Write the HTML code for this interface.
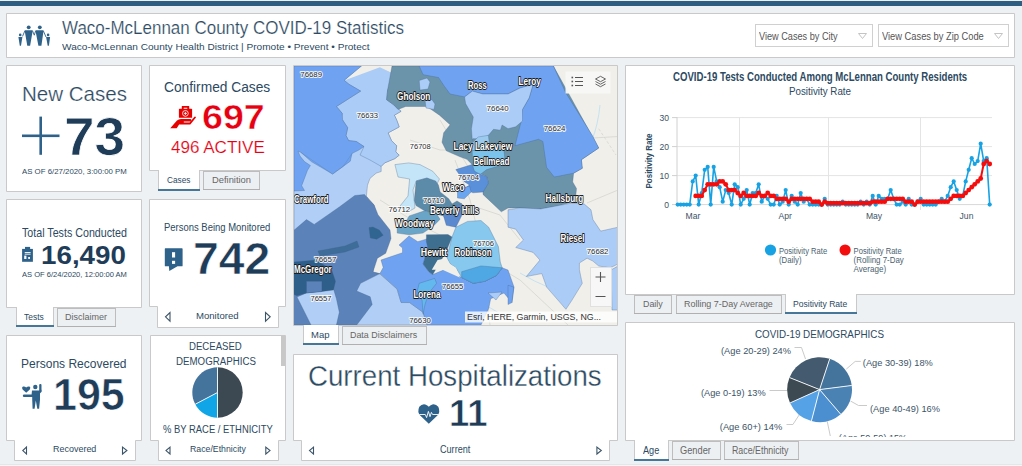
<!DOCTYPE html>
<html><head><meta charset="utf-8"><style>
html,body{margin:0;padding:0;width:1022px;height:466px;overflow:hidden;background:#edf1f4;font-family:"Liberation Sans",sans-serif}
.t{position:absolute;white-space:nowrap;transform-origin:0 0}
svg{position:absolute;left:0;top:0}
</style></head><body>
<svg width="1022" height="466"><rect x="0" y="1" width="1022" height="5" fill="#2e5f82"/><path d="M6.5,13.5H1014.5V57.5H6.5Z" fill="#fff" stroke="#c9c9c9"/><path d="M6.5,65.5H141.5V191.5H6.5Z" fill="#fff" stroke="#c9c9c9"/><path d="M149.5,65.5H285.5V170.5H149.5Z" fill="#fff" stroke="#c9c9c9"/><path d="M6.5,199.5H141.5V307.5H6.5Z" fill="#fff" stroke="#c9c9c9"/><path d="M149.5,199.5H285.5V306.5H278.5V327.5H157.5V306.5H149.5Z" fill="#fff" stroke="#c9c9c9"/><path d="M6.5,335.5H141.5V440.5H135.5V460.5H14.5V440.5H6.5Z" fill="#fff" stroke="#c9c9c9"/><path d="M150.5,335.5H285.5V440.5H278.5V460.5H158.5V440.5H150.5Z" fill="#fff" stroke="#c9c9c9"/><path d="M293.5,65.5H617.5V325.5H293.5Z" fill="#fff" stroke="#c9c9c9"/><path d="M293.5,354.5H617.5V440.5H609.5V460.5H301.5V440.5H293.5Z" fill="#fff" stroke="#c9c9c9"/><path d="M625.5,65.5H1014.5V294.5H625.5Z" fill="#fff" stroke="#c9c9c9"/><path d="M625.5,322.5H1014.5V440.5H625.5Z" fill="#fff" stroke="#c9c9c9"/><rect x="755.5" y="24.5" width="117" height="22" fill="#fff" stroke="#d0d0d0"/><rect x="878.5" y="24.5" width="130" height="22" fill="#fff" stroke="#d0d0d0"/><path d="M858.5,33.5H866.5L862.5,38.5Z M994.5,33.5H1002.5L998.5,38.5Z" fill="none" stroke="#c4c4c4"/><rect x="158" y="170" width="42" height="21" fill="#fff"/><path d="M158.5,170V191M199.5,170V191" stroke="#c9c9c9" fill="none"/><rect x="158" y="189" width="42" height="2" fill="#467799"/><rect x="203.5" y="171.5" width="56" height="18" fill="#edf0f3" stroke="#bdbdbd"/><rect x="203" y="189" width="57" height="1" fill="#b0b0b0"/><rect x="16" y="307" width="38" height="20" fill="#fff"/><path d="M16.5,307V327M53.5,307V327" stroke="#c9c9c9" fill="none"/><rect x="16" y="325" width="38" height="2" fill="#467799"/><rect x="57.5" y="308.5" width="58" height="18" fill="#edf0f3" stroke="#bdbdbd"/><rect x="57" y="326" width="59" height="1" fill="#b0b0b0"/><rect x="303" y="325" width="36" height="20" fill="#fff"/><path d="M303.5,325V345M338.5,325V345" stroke="#c9c9c9" fill="none"/><rect x="303" y="343" width="36" height="2" fill="#467799"/><rect x="342.5" y="326.5" width="84" height="18" fill="#edf0f3" stroke="#bdbdbd"/><rect x="342" y="344" width="85" height="1" fill="#b0b0b0"/><rect x="634.5" y="295.5" width="37" height="18" fill="#edf0f3" stroke="#bdbdbd"/><rect x="634" y="313" width="38" height="1" fill="#b0b0b0"/><rect x="676.5" y="295.5" width="105" height="18" fill="#edf0f3" stroke="#bdbdbd"/><rect x="676" y="313" width="106" height="1" fill="#b0b0b0"/><rect x="785" y="294" width="72" height="20" fill="#fff"/><path d="M785.5,294V314M856.5,294V314" stroke="#c9c9c9" fill="none"/><rect x="785" y="312" width="72" height="2" fill="#467799"/><rect x="634" y="440" width="35" height="21" fill="#fff"/><path d="M634.5,440V461M668.5,440V461" stroke="#c9c9c9" fill="none"/><rect x="634" y="459" width="35" height="2" fill="#467799"/><rect x="672.5" y="441.5" width="48" height="18" fill="#edf0f3" stroke="#bdbdbd"/><rect x="672" y="459" width="49" height="1" fill="#b0b0b0"/><rect x="724.5" y="441.5" width="74" height="18" fill="#edf0f3" stroke="#bdbdbd"/><rect x="724" y="459" width="75" height="1" fill="#b0b0b0"/><rect x="281" y="336" width="4" height="30" fill="#c8c8c8"/><rect x="0" y="464" width="1022" height="1" fill="#e3e7ea"/><rect x="0" y="465" width="1022" height="1" fill="#f4f5f5"/></svg>
<svg width="1022" height="466" style="font-family:'Liberation Sans'"><defs><clipPath id="mc"><rect x="294" y="66" width="323" height="259"/></clipPath></defs><g clip-path="url(#mc)"><rect x="294" y="66" width="323" height="259" fill="#f0efea"/><g stroke="#d6d6d0" stroke-width="0.8" fill="none"><path d="M380,200L420,225L470,250L520,280L568,325"/><path d="M455,160L470,200L480,240L490,325"/><path d="M587,203L618,190"/><path d="M593,138L618,136.5"/><path d="M598.7,128.7L616,155" stroke-dasharray="3,2"/><path d="M440,120L470,170"/><path d="M470,205L500,215L520,240"/><path d="M410,140L440,150L470,150"/></g><g stroke="#bfe0f2" stroke-width="0.9" fill="none"><path d="M520,273Q535,282 548,287"/><path d="M600,105Q598,125 592,140"/><path d="M470,300Q490,305 505,318"/></g><polygon fill="#b1cff6" stroke="#3f5f8a" stroke-opacity="0.45" stroke-width="0.7" stroke-linejoin="round" points="294.0,66.0 361.5,66.0 379.9,66.0 395.3,74.7 387.6,90.1 386.6,99.7 393.4,104.6 401.1,111.3 394.4,115.2 396.7,120.0 399.2,126.9 388.1,132.9 391.5,140.6 396.7,145.8 395.8,151.8 399.2,155.2 394.9,158.6 384.6,162.9 381.2,166.4 381.2,171.5 376.1,173.2 370.0,178.4 367.5,185.2 366.4,196.3 374.0,205.0 380.0,230.0 375.0,258.0 373.0,272.0 380.0,274.0 397.0,289.0 401.0,302.0 409.6,302.6 423.1,312.3 427.0,325.0 294.0,325.0" /><polygon fill="#abccf7" stroke="#3f5f8a" stroke-opacity="0.45" stroke-width="0.7" stroke-linejoin="round" points="344.2,80.4 361.5,66.0 379.9,66.0 395.3,74.7 387.6,90.1 386.6,99.7 393.4,104.6 401.1,111.3 394.4,115.2 396.7,120.0 399.2,126.9 388.1,132.9 391.5,140.6 396.7,145.8 395.8,151.8 399.2,155.2 394.9,158.6 384.6,162.9 381.2,166.4 370.0,160.0 360.0,155.0 364.0,146.6 356.3,141.5 348.6,140.6 346.0,135.5 347.7,127.7 342.6,120.0 340.3,124.8 342.2,113.3 336.4,106.5 360.6,91.1 349.0,84.3" /><polygon fill="#f0efea" points="361.5,66.0 404.0,66.0 395.3,74.7 379.9,67.3 344.2,80.4" /><polygon fill="#6fa3f2" stroke="#3f5f8a" stroke-opacity="0.45" stroke-width="0.7" stroke-linejoin="round" points="294.0,66.0 361.5,66.0 344.2,80.4 349.0,84.3 360.6,91.1 336.4,106.5 342.2,113.3 342.6,120.0 347.7,127.7 346.0,135.5 348.6,140.6 356.3,141.5 364.0,146.6 358.9,150.0 352.0,153.5 350.3,161.2 343.2,166.4 332.6,174.1 311.3,161.6 301.0,152.5 298.0,151.0 300.0,156.0 304.5,161.6 310.4,165.5 307.5,170.3 301.7,185.7 304.5,190.5 294.0,191.0" /><polygon fill="#6b94aa" stroke="#3f5f8a" stroke-opacity="0.45" stroke-width="0.7" stroke-linejoin="round" points="392.0,66.0 553.4,66.0 598.7,148.0 581.4,159.7 582.3,168.3 573.6,173.2 572.7,181.9 576.5,188.6 575.6,197.3 571.7,202.1 558.2,206.0 540.8,208.9 519.6,207.9 508.0,208.0 501.3,211.8 483.0,194.4 483.0,183.8 488.4,183.4 486.7,176.5 474.6,171.4 472.1,164.5 466.9,159.3 460.0,156.8 446.3,150.8 442.0,142.2 443.7,132.7 450.1,124.8 439.5,115.2 427.0,106.5 405.7,106.5 398.0,109.4 393.4,104.6 386.6,99.7 387.6,90.1" /><polygon fill="#abccf7" stroke="#3f5f8a" stroke-opacity="0.45" stroke-width="0.7" stroke-linejoin="round" points="419.2,80.5 427.0,78.0 430.0,82.0 428.0,89.0 420.0,90.1" /><polygon fill="#abccf7" stroke="#3f5f8a" stroke-opacity="0.45" stroke-width="0.7" stroke-linejoin="round" points="425.0,100.0 432.0,99.7 435.0,104.0 434.0,109.4 426.0,108.0" /><polygon fill="#6fa3f2" stroke="#3f5f8a" stroke-opacity="0.45" stroke-width="0.7" stroke-linejoin="round" points="419.2,66.0 553.4,66.0 565.9,93.0 592.9,136.4 598.7,148.0 581.4,159.7 582.3,168.3 573.6,173.2 554.3,177.0 546.6,167.4 542.9,141.4 538.5,139.3 515.0,145.7 521.5,120.0 522.5,109.4 522.5,109.4 529.2,97.8 533.1,84.3 519.6,88.2 508.0,94.0 482.9,94.0 472.3,91.1 464.6,96.9 450.1,94.0 444.3,86.2 438.5,77.5 423.1,74.7" /><polygon fill="#abccf7" stroke="#3f5f8a" stroke-opacity="0.45" stroke-width="0.7" stroke-linejoin="round" points="464.6,96.9 472.3,91.1 482.9,94.0 508.0,94.0 519.6,88.2 533.1,84.3 529.2,97.8 522.5,109.4 522.5,121.0 515.7,126.8 508.0,128.7 502.1,125.0 500.4,130.2 493.5,129.3 488.4,135.3 481.5,138.7 472.9,138.7 472.3,140.3 471.4,128.7 473.3,117.1 465.6,103.6" /><polygon fill="#9ccaee" stroke="#3f5f8a" stroke-opacity="0.45" stroke-width="0.7" stroke-linejoin="round" points="478.1,137.0 488.4,135.3 489.2,142.2 486.7,150.0 472.1,150.8 472.9,142.2" /><polygon fill="#7cc3ec" stroke="#3f5f8a" stroke-opacity="0.45" stroke-width="0.7" stroke-linejoin="round" points="472.1,150.8 486.7,149.0 503.8,149.0 504.7,157.6 503.8,164.5 486.7,169.6 479.8,174.8 472.9,170.5 472.9,166.2" /><polygon fill="#5a8fd9" stroke="#3f5f8a" stroke-opacity="0.45" stroke-width="0.7" stroke-linejoin="round" points="455.8,169.6 472.1,164.5 474.6,171.4 481.5,174.8 486.7,176.5 488.4,183.4 483.2,192.0 472.9,192.8 464.3,188.5 469.5,185.1 464.3,181.7" /><polygon fill="#6aa5f0" stroke="#3f5f8a" stroke-opacity="0.45" stroke-width="0.7" stroke-linejoin="round" points="457.5,190.2 469.5,185.9 471.2,192.0 464.3,198.8 457.5,198.0" /><polygon fill="#abccf7" stroke="#3f5f8a" stroke-opacity="0.45" stroke-width="0.7" stroke-linejoin="round" points="508.0,209.8 519.6,207.9 540.8,208.9 571.7,203.1 584.3,204.1 591.0,209.8 592.9,219.5 600.7,231.1 618.0,227.2 618.0,264.0 610.3,267.8 598.7,266.0 592.9,261.1 587.1,258.2 579.4,263.0 579.4,269.7 581.4,279.4 582.3,283.3 571.7,300.6 565.9,309.3 560.1,302.6 546.6,287.1 541.8,273.6 526.3,276.5 539.9,260.1 533.1,252.4 515.7,247.5 523.4,240.0 515.7,229.2 508.0,227.2" /><polygon fill="#abccf7" stroke="#3f5f8a" stroke-opacity="0.45" stroke-width="0.7" stroke-linejoin="round" points="611.0,270.0 618.0,266.0 618.0,310.0 612.0,310.0" /><polygon fill="#c4e5f7" stroke="#3f5f8a" stroke-opacity="0.45" stroke-width="0.7" stroke-linejoin="round" points="394.9,164.6 408.7,162.9 420.0,164.6 432.7,171.2 439.5,179.0 436.6,184.7 427.0,178.0 416.3,180.9 413.0,190.0 415.0,208.0 406.0,213.0 400.0,206.0 408.0,196.0 409.6,179.0 398.0,177.0" /><polygon fill="#5b83b9" stroke="#3f5f8a" stroke-opacity="0.45" stroke-width="0.7" stroke-linejoin="round" points="293.0,231.0 306.5,219.6 314.2,224.4 339.3,207.0 354.8,195.5 364.5,194.5 369.3,200.3 374.1,205.0 378.0,214.7 383.7,222.0 390.0,230.0 391.0,238.5 385.7,253.3 377.4,258.2 372.9,272.0 379.9,273.6 360.6,283.3 356.7,291.0 370.2,296.8 372.2,304.5 356.7,325.0 336.4,325.0 339.3,312.3 336.4,298.7 333.5,289.1 321.9,291.0 306.5,292.9 297.0,297.0 311.0,325.0 293.0,325.0" /><polygon fill="#2e5e8a" stroke="#3f5f8a" stroke-opacity="0.45" stroke-width="0.7" stroke-linejoin="round" points="293.0,262.0 316.2,260.1 331.6,269.7 335.5,281.3 333.5,290.0 321.9,291.5 306.5,292.9 296.9,295.8 293.0,293.9" /><polygon fill="#5b83b9" stroke="#3f5f8a" stroke-opacity="0.45" stroke-width="0.7" stroke-linejoin="round" points="306.5,281.3 321.9,281.3 321.9,291.5 306.5,292.9" /><polygon fill="#3d6d98" stroke="#3f5f8a" stroke-opacity="0.45" stroke-width="0.7" stroke-linejoin="round" points="318.0,251.0 345.0,246.0 357.0,241.0 359.0,247.0 345.0,252.0 320.0,256.0" /><polygon fill="#2f6590" stroke="#3f5f8a" stroke-opacity="0.45" stroke-width="0.7" stroke-linejoin="round" points="369.0,227.6 372.9,227.0 379.3,230.1 383.2,235.3 376.7,239.2 370.3,237.9" /><polygon fill="#6fa3f2" stroke="#3f5f8a" stroke-opacity="0.45" stroke-width="0.7" stroke-linejoin="round" points="383.2,267.5 381.0,260.0 402.5,252.7 402.5,248.0 399.0,245.0 409.0,236.0 417.8,241.7 427.0,238.9 428.1,248.5 423.1,264.0 428.9,271.7 432.7,274.6 446.0,269.0 461.7,277.5 473.3,283.3 484.9,281.3 496.5,275.5 502.2,267.8 508.0,270.0 514.0,287.0 512.0,302.6 504.0,293.0 490.7,298.7 488.7,308.4 481.0,325.0 427.0,325.0 423.1,312.3 409.6,302.6 401.1,302.6 397.2,289.1 379.9,273.6" /><polygon fill="#abccf7" stroke="#3f5f8a" stroke-opacity="0.45" stroke-width="0.7" stroke-linejoin="round" points="488.0,293.0 502.0,292.0 496.0,300.0" /><polygon fill="#5b8ba8" stroke="#3f5f8a" stroke-opacity="0.45" stroke-width="0.7" stroke-linejoin="round" points="416.3,180.9 427.0,178.0 435.6,180.9 438.4,185.0 440.1,191.9 448.7,198.7 452.1,203.9 447.0,210.8 436.7,214.2 424.6,210.8 416.0,205.6 414.3,200.5 415.4,188.6" /><polygon fill="#6aa5c8" stroke="#3f5f8a" stroke-opacity="0.45" stroke-width="0.7" stroke-linejoin="round" points="397.2,227.9 405.8,221.9 409.2,215.9 424.6,210.8 436.7,214.2 440.1,219.3 433.2,226.2 422.9,233.1 409.2,234.8 397.2,233.1" /><polygon fill="#5b8ba8" stroke="#3f5f8a" stroke-opacity="0.45" stroke-width="0.7" stroke-linejoin="round" points="436.7,214.2 447.0,210.8 452.1,203.9 457.0,201.0 462.0,204.0 453.8,207.3 443.5,215.9" /><polygon fill="#5a89cf" stroke="#3f5f8a" stroke-opacity="0.45" stroke-width="0.7" stroke-linejoin="round" points="443.5,215.9 453.8,207.3 461.7,204.0 466.0,208.0 463.6,211.8 455.9,227.2 446.3,225.3" /><polygon fill="#86c8ee" stroke="#3f5f8a" stroke-opacity="0.45" stroke-width="0.7" stroke-linejoin="round" points="452.0,237.0 455.9,227.2 467.5,221.4 481.0,220.5 488.7,227.2 498.4,246.6 500.3,262.0 502.2,267.8 496.5,275.5 484.9,281.3 473.3,283.3 461.7,277.5 455.9,267.8 450.1,264.0 446.3,256.2 448.7,250.2" /><polygon fill="#4fa8e3" stroke="#3f5f8a" stroke-opacity="0.45" stroke-width="0.7" stroke-linejoin="round" points="461.7,271.7 481.0,265.9 502.2,267.8 496.5,275.5 484.9,281.3 473.3,283.3 461.7,277.5" /><polygon fill="#3e6f91" stroke="#3f5f8a" stroke-opacity="0.45" stroke-width="0.7" stroke-linejoin="round" points="426.4,234.8 448.0,234.5 452.0,237.0 446.0,252.0 432.7,274.6 428.9,271.7 423.1,264.0 428.0,248.5 426.4,241.7" /><polygon fill="#f0efea" points="431.8,269.7 437.6,260.1 446.3,258.2 450.1,264.0 455.9,267.8 459.8,277.5 442.4,269.7" /><polygon fill="#63b9ee" stroke="#3f5f8a" stroke-opacity="0.45" stroke-width="0.7" stroke-linejoin="round" points="419.2,283.3 434.7,278.4 436.6,283.3 428.9,292.9 426.9,298.7 425.0,304.5 423.1,314.2 422.1,300.6 417.3,291.0" /><polygon fill="#6fa3f2" stroke="#3f5f8a" stroke-opacity="0.45" stroke-width="0.7" stroke-linejoin="round" points="508.0,285.2 513.8,287.1 511.9,302.6 508.0,304.5" /><g fill="none" stroke="#4a6e9a" stroke-opacity="0.35" stroke-width="0.7"><polyline points="301,152.5 332.6,174.1 343.2,166.4 352,153.5"/><polyline points="366.4,196.3 374,205"/></g><rect x="565.5" y="71.5" width="45" height="22" fill="#f7f7f7" fill-opacity="0.95"/><g stroke="#555" stroke-width="1"><path d="M575,77.5H583M575,81.5H583M575,85.5H583"/></g><g fill="#555"><rect x="571.5" y="76.7" width="1.6" height="1.6"/><rect x="571.5" y="80.7" width="1.6" height="1.6"/><rect x="571.5" y="84.7" width="1.6" height="1.6"/></g><g fill="none" stroke="#555" stroke-width="0.9"><path d="M595.5,79L600.5,76.3L605.5,79L600.5,81.7Z"/><path d="M595.5,81.5L600.5,84.2L605.5,81.5"/><path d="M595.5,84L600.5,86.7L605.5,84"/></g><rect x="590.5" y="267.5" width="21" height="39" fill="#f7f7f7" stroke="#e0e0e0"/><path d="M595.5,277H605.5M600.5,272V282M595.5,296.5H605.5" stroke="#555" stroke-width="1.1"/><rect x="465" y="311.5" width="152" height="11" fill="#ffffff" fill-opacity="0.8"/><text x="467" y="319.8" font-size="9.6" fill="#333" textLength="134" lengthAdjust="spacingAndGlyphs">Esri, HERE, Garmin, USGS, NG...</text><g font-size="10.2" font-weight="bold" fill="#fff" stroke="#1a1a1a" stroke-width="1.8" stroke-linejoin="round" paint-order="stroke"><text x="397" y="99.60000000000001" textLength="33.4" lengthAdjust="spacingAndGlyphs">Gholson</text><text x="467.9" y="88.8" textLength="18.9" lengthAdjust="spacingAndGlyphs">Ross</text><text x="518.6" y="85.0" textLength="22.2" lengthAdjust="spacingAndGlyphs">Leroy</text><text x="453.6" y="149.79999999999998" textLength="58.6" lengthAdjust="spacingAndGlyphs">Lacy Lakeview</text><text x="473.4" y="164.79999999999998" textLength="36.1" lengthAdjust="spacingAndGlyphs">Bellmead</text><text x="442.4" y="191.2" textLength="22.2" lengthAdjust="spacingAndGlyphs">Waco</text><text x="294" y="202.79999999999998" textLength="34.7" lengthAdjust="spacingAndGlyphs">Crawford</text><text x="429.9" y="214.39999999999998" textLength="49.2" lengthAdjust="spacingAndGlyphs">Beverly Hills</text><text x="395.1" y="227.2" textLength="39.0" lengthAdjust="spacingAndGlyphs">Woodway</text><text x="545.6" y="201.79999999999998" textLength="37.7" lengthAdjust="spacingAndGlyphs">Hallsburg</text><text x="420.8" y="255.89999999999998" textLength="26.4" lengthAdjust="spacingAndGlyphs">Hewitt</text><text x="454.4" y="255.89999999999998" textLength="37.2" lengthAdjust="spacingAndGlyphs">Robinson</text><text x="560.5" y="242.2" textLength="24.0" lengthAdjust="spacingAndGlyphs">Riesel</text><text x="294" y="273.3" textLength="37.6" lengthAdjust="spacingAndGlyphs">McGregor</text><text x="413.4" y="298.4" textLength="27.1" lengthAdjust="spacingAndGlyphs">Lorena</text></g><g font-size="8" fill="#2b2b2b" stroke="#fff" stroke-opacity="0.85" stroke-width="2" stroke-linejoin="round" paint-order="stroke"><text x="300.3" y="76.7" textLength="21.7" lengthAdjust="spacingAndGlyphs">76689</text><text x="356.7" y="117.8" textLength="21.2" lengthAdjust="spacingAndGlyphs">76633</text><text x="486.6" y="111.3" textLength="22.0" lengthAdjust="spacingAndGlyphs">76640</text><text x="543.7" y="130.89999999999998" textLength="21.8" lengthAdjust="spacingAndGlyphs">76624</text><text x="409.8" y="149.1" textLength="20.9" lengthAdjust="spacingAndGlyphs">76708</text><text x="457.8" y="179.6" textLength="21.3" lengthAdjust="spacingAndGlyphs">76704</text><text x="423.1" y="203.39999999999998" textLength="21.2" lengthAdjust="spacingAndGlyphs">76710</text><text x="388.5" y="212.2" textLength="21.6" lengthAdjust="spacingAndGlyphs">76712</text><text x="472.9" y="246.29999999999998" textLength="21.2" lengthAdjust="spacingAndGlyphs">76706</text><text x="586.8" y="254.0" textLength="21.6" lengthAdjust="spacingAndGlyphs">76682</text><text x="314.2" y="261.7" textLength="22.2" lengthAdjust="spacingAndGlyphs">76657</text><text x="310.4" y="301.3" textLength="21.2" lengthAdjust="spacingAndGlyphs">76557</text><text x="442" y="288.8" textLength="21.3" lengthAdjust="spacingAndGlyphs">76655</text><text x="409.2" y="322.5" textLength="21.6" lengthAdjust="spacingAndGlyphs">76630</text></g></g></svg>
<svg width="1022" height="466" style="font-family:'Liberation Sans'"><line x1="677" y1="175.6" x2="992" y2="175.6" stroke="#e4e4e4" stroke-width="1"/><line x1="677" y1="146.6" x2="992" y2="146.6" stroke="#e4e4e4" stroke-width="1"/><line x1="677" y1="117.6" x2="992" y2="117.6" stroke="#e4e4e4" stroke-width="1"/><line x1="739.5" y1="117" x2="739.5" y2="210" stroke="#e4e4e4" stroke-width="1"/><line x1="828.5" y1="117" x2="828.5" y2="210" stroke="#e4e4e4" stroke-width="1"/><line x1="920.5" y1="117" x2="920.5" y2="210" stroke="#e4e4e4" stroke-width="1"/><line x1="677" y1="117" x2="677" y2="205" stroke="#d0d0d0" stroke-width="1"/><line x1="677" y1="204.6" x2="992" y2="204.6" stroke="#d8d8d8" stroke-width="1"/><line x1="672" y1="204.6" x2="677" y2="204.6" stroke="#d0d0d0" stroke-width="1"/><text x="669" y="207.6" text-anchor="end" font-size="8.6" fill="#3c5468">0</text><line x1="672" y1="175.6" x2="677" y2="175.6" stroke="#d0d0d0" stroke-width="1"/><text x="669" y="178.6" text-anchor="end" font-size="8.6" fill="#3c5468">10</text><line x1="672" y1="146.6" x2="677" y2="146.6" stroke="#d0d0d0" stroke-width="1"/><text x="669" y="149.6" text-anchor="end" font-size="8.6" fill="#3c5468">20</text><line x1="672" y1="117.6" x2="677" y2="117.6" stroke="#d0d0d0" stroke-width="1"/><text x="669" y="120.6" text-anchor="end" font-size="8.6" fill="#3c5468">30</text><text x="693" y="218.6" text-anchor="middle" font-size="8.6" fill="#3c5468">Mar</text><text x="785.2" y="218.6" text-anchor="middle" font-size="8.6" fill="#3c5468">Apr</text><text x="874" y="218.6" text-anchor="middle" font-size="8.6" fill="#3c5468">May</text><text x="966.5" y="218.6" text-anchor="middle" font-size="8.6" fill="#3c5468">Jun</text><text transform="translate(652.3,188.5) rotate(-90)" font-size="8.2" font-weight="bold" fill="#2c4a62" textLength="55" lengthAdjust="spacingAndGlyphs">Positivity Rate</text><polyline fill="none" stroke="#17a2e3" stroke-width="1.6" stroke-linejoin="round" points="677.7,204.6 680.7,204.6 683.7,204.6 686.7,204.6 689.7,204.6 692.7,181.4 695.7,175.6 698.7,204.6 701.7,193.0 704.7,169.8 707.7,166.9 710.7,204.6 713.7,166.9 716.7,181.4 719.7,187.2 722.7,201.7 725.7,190.1 728.7,193.0 731.7,204.6 734.7,184.3 737.7,187.2 740.7,204.6 743.7,198.8 746.7,190.1 749.7,204.6 752.7,193.0 755.7,193.0 758.7,184.3 761.7,201.7 764.7,195.9 767.7,198.8 770.7,204.6 773.7,204.6 776.7,195.9 779.7,204.6 782.7,201.7 785.7,190.1 788.7,204.6 791.7,195.9 794.7,201.7 797.7,204.6 800.7,193.0 803.7,201.7 806.7,198.8 809.7,204.6 812.7,204.6 815.7,204.6 818.7,204.6 821.7,204.6 824.7,198.8 827.7,204.6 830.7,204.6 833.7,204.6 836.7,204.6 839.7,204.6 842.7,201.7 845.7,204.6 848.7,204.6 851.7,204.6 854.7,204.6 857.7,204.6 860.7,201.7 863.7,204.6 866.7,201.7 869.7,204.6 872.7,195.9 875.7,204.6 878.7,195.9 881.7,198.8 884.7,198.8 887.7,198.8 890.7,190.1 893.7,198.8 896.7,204.6 899.7,204.6 902.7,201.7 905.7,204.6 908.7,198.8 911.7,204.6 914.7,204.6 917.7,201.7 920.7,198.8 923.7,204.6 926.7,204.6 929.7,204.6 932.7,204.6 935.7,204.6 938.7,201.7 941.7,198.8 944.7,201.7 947.7,195.9 950.7,187.2 953.7,181.4 956.7,190.1 959.7,198.8 962.7,195.9 965.7,181.4 968.7,169.8 971.7,158.2 974.7,164.0 977.7,161.1 980.7,143.7 983.7,161.1 986.7,158.2 989.7,204.6"/><circle cx="677.7" cy="204.6" r="2.1" fill="#17a2e3"/><circle cx="680.7" cy="204.6" r="2.1" fill="#17a2e3"/><circle cx="683.7" cy="204.6" r="2.1" fill="#17a2e3"/><circle cx="686.7" cy="204.6" r="2.1" fill="#17a2e3"/><circle cx="689.7" cy="204.6" r="2.1" fill="#17a2e3"/><circle cx="692.7" cy="181.4" r="2.1" fill="#17a2e3"/><circle cx="695.7" cy="175.6" r="2.1" fill="#17a2e3"/><circle cx="698.7" cy="204.6" r="2.1" fill="#17a2e3"/><circle cx="701.7" cy="193.0" r="2.1" fill="#17a2e3"/><circle cx="704.7" cy="169.8" r="2.1" fill="#17a2e3"/><circle cx="707.7" cy="166.9" r="2.1" fill="#17a2e3"/><circle cx="710.7" cy="204.6" r="2.1" fill="#17a2e3"/><circle cx="713.7" cy="166.9" r="2.1" fill="#17a2e3"/><circle cx="716.7" cy="181.4" r="2.1" fill="#17a2e3"/><circle cx="719.7" cy="187.2" r="2.1" fill="#17a2e3"/><circle cx="722.7" cy="201.7" r="2.1" fill="#17a2e3"/><circle cx="725.7" cy="190.1" r="2.1" fill="#17a2e3"/><circle cx="728.7" cy="193.0" r="2.1" fill="#17a2e3"/><circle cx="731.7" cy="204.6" r="2.1" fill="#17a2e3"/><circle cx="734.7" cy="184.3" r="2.1" fill="#17a2e3"/><circle cx="737.7" cy="187.2" r="2.1" fill="#17a2e3"/><circle cx="740.7" cy="204.6" r="2.1" fill="#17a2e3"/><circle cx="743.7" cy="198.8" r="2.1" fill="#17a2e3"/><circle cx="746.7" cy="190.1" r="2.1" fill="#17a2e3"/><circle cx="749.7" cy="204.6" r="2.1" fill="#17a2e3"/><circle cx="752.7" cy="193.0" r="2.1" fill="#17a2e3"/><circle cx="755.7" cy="193.0" r="2.1" fill="#17a2e3"/><circle cx="758.7" cy="184.3" r="2.1" fill="#17a2e3"/><circle cx="761.7" cy="201.7" r="2.1" fill="#17a2e3"/><circle cx="764.7" cy="195.9" r="2.1" fill="#17a2e3"/><circle cx="767.7" cy="198.8" r="2.1" fill="#17a2e3"/><circle cx="770.7" cy="204.6" r="2.1" fill="#17a2e3"/><circle cx="773.7" cy="204.6" r="2.1" fill="#17a2e3"/><circle cx="776.7" cy="195.9" r="2.1" fill="#17a2e3"/><circle cx="779.7" cy="204.6" r="2.1" fill="#17a2e3"/><circle cx="782.7" cy="201.7" r="2.1" fill="#17a2e3"/><circle cx="785.7" cy="190.1" r="2.1" fill="#17a2e3"/><circle cx="788.7" cy="204.6" r="2.1" fill="#17a2e3"/><circle cx="791.7" cy="195.9" r="2.1" fill="#17a2e3"/><circle cx="794.7" cy="201.7" r="2.1" fill="#17a2e3"/><circle cx="797.7" cy="204.6" r="2.1" fill="#17a2e3"/><circle cx="800.7" cy="193.0" r="2.1" fill="#17a2e3"/><circle cx="803.7" cy="201.7" r="2.1" fill="#17a2e3"/><circle cx="806.7" cy="198.8" r="2.1" fill="#17a2e3"/><circle cx="809.7" cy="204.6" r="2.1" fill="#17a2e3"/><circle cx="812.7" cy="204.6" r="2.1" fill="#17a2e3"/><circle cx="815.7" cy="204.6" r="2.1" fill="#17a2e3"/><circle cx="818.7" cy="204.6" r="2.1" fill="#17a2e3"/><circle cx="821.7" cy="204.6" r="2.1" fill="#17a2e3"/><circle cx="824.7" cy="198.8" r="2.1" fill="#17a2e3"/><circle cx="827.7" cy="204.6" r="2.1" fill="#17a2e3"/><circle cx="830.7" cy="204.6" r="2.1" fill="#17a2e3"/><circle cx="833.7" cy="204.6" r="2.1" fill="#17a2e3"/><circle cx="836.7" cy="204.6" r="2.1" fill="#17a2e3"/><circle cx="839.7" cy="204.6" r="2.1" fill="#17a2e3"/><circle cx="842.7" cy="201.7" r="2.1" fill="#17a2e3"/><circle cx="845.7" cy="204.6" r="2.1" fill="#17a2e3"/><circle cx="848.7" cy="204.6" r="2.1" fill="#17a2e3"/><circle cx="851.7" cy="204.6" r="2.1" fill="#17a2e3"/><circle cx="854.7" cy="204.6" r="2.1" fill="#17a2e3"/><circle cx="857.7" cy="204.6" r="2.1" fill="#17a2e3"/><circle cx="860.7" cy="201.7" r="2.1" fill="#17a2e3"/><circle cx="863.7" cy="204.6" r="2.1" fill="#17a2e3"/><circle cx="866.7" cy="201.7" r="2.1" fill="#17a2e3"/><circle cx="869.7" cy="204.6" r="2.1" fill="#17a2e3"/><circle cx="872.7" cy="195.9" r="2.1" fill="#17a2e3"/><circle cx="875.7" cy="204.6" r="2.1" fill="#17a2e3"/><circle cx="878.7" cy="195.9" r="2.1" fill="#17a2e3"/><circle cx="881.7" cy="198.8" r="2.1" fill="#17a2e3"/><circle cx="884.7" cy="198.8" r="2.1" fill="#17a2e3"/><circle cx="887.7" cy="198.8" r="2.1" fill="#17a2e3"/><circle cx="890.7" cy="190.1" r="2.1" fill="#17a2e3"/><circle cx="893.7" cy="198.8" r="2.1" fill="#17a2e3"/><circle cx="896.7" cy="204.6" r="2.1" fill="#17a2e3"/><circle cx="899.7" cy="204.6" r="2.1" fill="#17a2e3"/><circle cx="902.7" cy="201.7" r="2.1" fill="#17a2e3"/><circle cx="905.7" cy="204.6" r="2.1" fill="#17a2e3"/><circle cx="908.7" cy="198.8" r="2.1" fill="#17a2e3"/><circle cx="911.7" cy="204.6" r="2.1" fill="#17a2e3"/><circle cx="914.7" cy="204.6" r="2.1" fill="#17a2e3"/><circle cx="917.7" cy="201.7" r="2.1" fill="#17a2e3"/><circle cx="920.7" cy="198.8" r="2.1" fill="#17a2e3"/><circle cx="923.7" cy="204.6" r="2.1" fill="#17a2e3"/><circle cx="926.7" cy="204.6" r="2.1" fill="#17a2e3"/><circle cx="929.7" cy="204.6" r="2.1" fill="#17a2e3"/><circle cx="932.7" cy="204.6" r="2.1" fill="#17a2e3"/><circle cx="935.7" cy="204.6" r="2.1" fill="#17a2e3"/><circle cx="938.7" cy="201.7" r="2.1" fill="#17a2e3"/><circle cx="941.7" cy="198.8" r="2.1" fill="#17a2e3"/><circle cx="944.7" cy="201.7" r="2.1" fill="#17a2e3"/><circle cx="947.7" cy="195.9" r="2.1" fill="#17a2e3"/><circle cx="950.7" cy="187.2" r="2.1" fill="#17a2e3"/><circle cx="953.7" cy="181.4" r="2.1" fill="#17a2e3"/><circle cx="956.7" cy="190.1" r="2.1" fill="#17a2e3"/><circle cx="959.7" cy="198.8" r="2.1" fill="#17a2e3"/><circle cx="962.7" cy="195.9" r="2.1" fill="#17a2e3"/><circle cx="965.7" cy="181.4" r="2.1" fill="#17a2e3"/><circle cx="968.7" cy="169.8" r="2.1" fill="#17a2e3"/><circle cx="971.7" cy="158.2" r="2.1" fill="#17a2e3"/><circle cx="974.7" cy="164.0" r="2.1" fill="#17a2e3"/><circle cx="977.7" cy="161.1" r="2.1" fill="#17a2e3"/><circle cx="980.7" cy="143.7" r="2.1" fill="#17a2e3"/><circle cx="983.7" cy="161.1" r="2.1" fill="#17a2e3"/><circle cx="986.7" cy="158.2" r="2.1" fill="#17a2e3"/><circle cx="989.7" cy="204.6" r="2.1" fill="#17a2e3"/><polyline fill="none" stroke="#f40d0d" stroke-width="2" stroke-linejoin="round" points="695.7,195.9 698.7,195.9 701.7,195.9 704.7,190.1 707.7,184.3 710.7,184.3 713.7,184.3 716.7,184.3 719.7,181.4 722.7,181.4 725.7,184.3 728.7,190.1 731.7,190.1 734.7,190.1 737.7,193.0 740.7,195.9 743.7,193.0 746.7,195.9 749.7,195.9 752.7,195.9 755.7,195.9 758.7,193.0 761.7,195.9 764.7,195.9 767.7,193.0 770.7,195.9 773.7,195.9 776.7,198.8 779.7,198.8 782.7,198.8 785.7,198.8 788.7,201.7 791.7,198.8 794.7,198.8 797.7,198.8 800.7,198.8 803.7,198.8 806.7,198.8 809.7,198.8 812.7,201.7 815.7,201.7 818.7,201.7 821.7,204.6 824.7,201.7 827.7,203.2 830.7,203.2 833.7,203.2 836.7,203.2 839.7,203.2 842.7,203.2 845.7,203.2 848.7,203.2 851.7,203.2 854.7,203.2 857.7,203.2 860.7,203.2 863.7,203.2 866.7,203.2 869.7,203.2 872.7,201.7 875.7,201.7 878.7,201.7 881.7,201.7 884.7,201.7 887.7,198.8 890.7,198.8 893.7,198.8 896.7,198.8 899.7,198.8 902.7,198.8 905.7,201.7 908.7,201.7 911.7,201.7 914.7,204.6 917.7,201.7 920.7,201.7 923.7,201.7 926.7,201.7 929.7,201.7 932.7,201.7 935.7,201.7 938.7,201.7 941.7,201.7 944.7,201.7 947.7,201.7 950.7,198.8 953.7,195.9 956.7,195.9 959.7,195.9 962.7,195.9 965.7,193.0 968.7,190.1 971.7,187.2 974.7,184.3 977.7,181.4 980.7,178.5 983.7,164.0 986.7,161.1 989.7,164.0"/><circle cx="695.7" cy="195.9" r="2.4" fill="#f40d0d"/><circle cx="698.7" cy="195.9" r="2.4" fill="#f40d0d"/><circle cx="701.7" cy="195.9" r="2.4" fill="#f40d0d"/><circle cx="704.7" cy="190.1" r="2.4" fill="#f40d0d"/><circle cx="707.7" cy="184.3" r="2.4" fill="#f40d0d"/><circle cx="710.7" cy="184.3" r="2.4" fill="#f40d0d"/><circle cx="713.7" cy="184.3" r="2.4" fill="#f40d0d"/><circle cx="716.7" cy="184.3" r="2.4" fill="#f40d0d"/><circle cx="719.7" cy="181.4" r="2.4" fill="#f40d0d"/><circle cx="722.7" cy="181.4" r="2.4" fill="#f40d0d"/><circle cx="725.7" cy="184.3" r="2.4" fill="#f40d0d"/><circle cx="728.7" cy="190.1" r="2.4" fill="#f40d0d"/><circle cx="731.7" cy="190.1" r="2.4" fill="#f40d0d"/><circle cx="734.7" cy="190.1" r="2.4" fill="#f40d0d"/><circle cx="737.7" cy="193.0" r="2.4" fill="#f40d0d"/><circle cx="740.7" cy="195.9" r="2.4" fill="#f40d0d"/><circle cx="743.7" cy="193.0" r="2.4" fill="#f40d0d"/><circle cx="746.7" cy="195.9" r="2.4" fill="#f40d0d"/><circle cx="749.7" cy="195.9" r="2.4" fill="#f40d0d"/><circle cx="752.7" cy="195.9" r="2.4" fill="#f40d0d"/><circle cx="755.7" cy="195.9" r="2.4" fill="#f40d0d"/><circle cx="758.7" cy="193.0" r="2.4" fill="#f40d0d"/><circle cx="761.7" cy="195.9" r="2.4" fill="#f40d0d"/><circle cx="764.7" cy="195.9" r="2.4" fill="#f40d0d"/><circle cx="767.7" cy="193.0" r="2.4" fill="#f40d0d"/><circle cx="770.7" cy="195.9" r="2.4" fill="#f40d0d"/><circle cx="773.7" cy="195.9" r="2.4" fill="#f40d0d"/><circle cx="776.7" cy="198.8" r="2.4" fill="#f40d0d"/><circle cx="779.7" cy="198.8" r="2.4" fill="#f40d0d"/><circle cx="782.7" cy="198.8" r="2.4" fill="#f40d0d"/><circle cx="785.7" cy="198.8" r="2.4" fill="#f40d0d"/><circle cx="788.7" cy="201.7" r="2.4" fill="#f40d0d"/><circle cx="791.7" cy="198.8" r="2.4" fill="#f40d0d"/><circle cx="794.7" cy="198.8" r="2.4" fill="#f40d0d"/><circle cx="797.7" cy="198.8" r="2.4" fill="#f40d0d"/><circle cx="800.7" cy="198.8" r="2.4" fill="#f40d0d"/><circle cx="803.7" cy="198.8" r="2.4" fill="#f40d0d"/><circle cx="806.7" cy="198.8" r="2.4" fill="#f40d0d"/><circle cx="809.7" cy="198.8" r="2.4" fill="#f40d0d"/><circle cx="812.7" cy="201.7" r="2.4" fill="#f40d0d"/><circle cx="815.7" cy="201.7" r="2.4" fill="#f40d0d"/><circle cx="818.7" cy="201.7" r="2.4" fill="#f40d0d"/><circle cx="821.7" cy="204.6" r="2.4" fill="#f40d0d"/><circle cx="824.7" cy="201.7" r="2.4" fill="#f40d0d"/><circle cx="827.7" cy="203.2" r="2.4" fill="#f40d0d"/><circle cx="830.7" cy="203.2" r="2.4" fill="#f40d0d"/><circle cx="833.7" cy="203.2" r="2.4" fill="#f40d0d"/><circle cx="836.7" cy="203.2" r="2.4" fill="#f40d0d"/><circle cx="839.7" cy="203.2" r="2.4" fill="#f40d0d"/><circle cx="842.7" cy="203.2" r="2.4" fill="#f40d0d"/><circle cx="845.7" cy="203.2" r="2.4" fill="#f40d0d"/><circle cx="848.7" cy="203.2" r="2.4" fill="#f40d0d"/><circle cx="851.7" cy="203.2" r="2.4" fill="#f40d0d"/><circle cx="854.7" cy="203.2" r="2.4" fill="#f40d0d"/><circle cx="857.7" cy="203.2" r="2.4" fill="#f40d0d"/><circle cx="860.7" cy="203.2" r="2.4" fill="#f40d0d"/><circle cx="863.7" cy="203.2" r="2.4" fill="#f40d0d"/><circle cx="866.7" cy="203.2" r="2.4" fill="#f40d0d"/><circle cx="869.7" cy="203.2" r="2.4" fill="#f40d0d"/><circle cx="872.7" cy="201.7" r="2.4" fill="#f40d0d"/><circle cx="875.7" cy="201.7" r="2.4" fill="#f40d0d"/><circle cx="878.7" cy="201.7" r="2.4" fill="#f40d0d"/><circle cx="881.7" cy="201.7" r="2.4" fill="#f40d0d"/><circle cx="884.7" cy="201.7" r="2.4" fill="#f40d0d"/><circle cx="887.7" cy="198.8" r="2.4" fill="#f40d0d"/><circle cx="890.7" cy="198.8" r="2.4" fill="#f40d0d"/><circle cx="893.7" cy="198.8" r="2.4" fill="#f40d0d"/><circle cx="896.7" cy="198.8" r="2.4" fill="#f40d0d"/><circle cx="899.7" cy="198.8" r="2.4" fill="#f40d0d"/><circle cx="902.7" cy="198.8" r="2.4" fill="#f40d0d"/><circle cx="905.7" cy="201.7" r="2.4" fill="#f40d0d"/><circle cx="908.7" cy="201.7" r="2.4" fill="#f40d0d"/><circle cx="911.7" cy="201.7" r="2.4" fill="#f40d0d"/><circle cx="914.7" cy="204.6" r="2.4" fill="#f40d0d"/><circle cx="917.7" cy="201.7" r="2.4" fill="#f40d0d"/><circle cx="920.7" cy="201.7" r="2.4" fill="#f40d0d"/><circle cx="923.7" cy="201.7" r="2.4" fill="#f40d0d"/><circle cx="926.7" cy="201.7" r="2.4" fill="#f40d0d"/><circle cx="929.7" cy="201.7" r="2.4" fill="#f40d0d"/><circle cx="932.7" cy="201.7" r="2.4" fill="#f40d0d"/><circle cx="935.7" cy="201.7" r="2.4" fill="#f40d0d"/><circle cx="938.7" cy="201.7" r="2.4" fill="#f40d0d"/><circle cx="941.7" cy="201.7" r="2.4" fill="#f40d0d"/><circle cx="944.7" cy="201.7" r="2.4" fill="#f40d0d"/><circle cx="947.7" cy="201.7" r="2.4" fill="#f40d0d"/><circle cx="950.7" cy="198.8" r="2.4" fill="#f40d0d"/><circle cx="953.7" cy="195.9" r="2.4" fill="#f40d0d"/><circle cx="956.7" cy="195.9" r="2.4" fill="#f40d0d"/><circle cx="959.7" cy="195.9" r="2.4" fill="#f40d0d"/><circle cx="962.7" cy="195.9" r="2.4" fill="#f40d0d"/><circle cx="965.7" cy="193.0" r="2.4" fill="#f40d0d"/><circle cx="968.7" cy="190.1" r="2.4" fill="#f40d0d"/><circle cx="971.7" cy="187.2" r="2.4" fill="#f40d0d"/><circle cx="974.7" cy="184.3" r="2.4" fill="#f40d0d"/><circle cx="977.7" cy="181.4" r="2.4" fill="#f40d0d"/><circle cx="980.7" cy="178.5" r="2.4" fill="#f40d0d"/><circle cx="983.7" cy="164.0" r="2.4" fill="#f40d0d"/><circle cx="986.7" cy="161.1" r="2.4" fill="#f40d0d"/><circle cx="989.7" cy="164.0" r="2.4" fill="#f40d0d"/><circle cx="770.5" cy="250" r="5.6" fill="#17a2e3"/><circle cx="845.1" cy="250" r="5.6" fill="#f40d0d"/><text x="779" y="254.0" font-size="8.4" fill="#4b5f70" textLength="48.1" lengthAdjust="spacingAndGlyphs">Positivity Rate</text><text x="779" y="263.2" font-size="8.4" fill="#4b5f70" textLength="22.5" lengthAdjust="spacingAndGlyphs">(Daily)</text><text x="853.6" y="254.0" font-size="8.4" fill="#4b5f70" textLength="48.1" lengthAdjust="spacingAndGlyphs">Positivity Rate</text><text x="853.6" y="263.2" font-size="8.4" fill="#4b5f70" textLength="50.2" lengthAdjust="spacingAndGlyphs">(Rolling 7-Day</text><text x="853.6" y="272.4" font-size="8.4" fill="#4b5f70" textLength="32.6" lengthAdjust="spacingAndGlyphs">Average)</text></svg>
<svg width="1022" height="466" style="font-family:'Liberation Sans'"><rect x="22" y="134.5" width="37.5" height="2.6" fill="#2f628a"/><rect x="39.4" y="116.6" width="2.6" height="38.2" fill="#2f628a"/><g fill="#2f628a"><circle cx="28.7" cy="27.3" r="1.9"/><circle cx="39.8" cy="27.3" r="1.9"/><circle cx="20.2" cy="34.9" r="1.3"/><circle cx="48.1" cy="34.9" r="1.3"/><path d="M24.6,30.2H32.8L30.1,45.8H27.3Z M35.4,30.2H43.6L41.4,45.8H38.4Z M18.4,37H22.4L21,45.8H19.8Z M46.1,37H50.1L48.9,45.8H47.7Z"/><path d="M24.8,31L22.5,36.4 M32.6,31L34.3,35.2L35.6,31 M43.4,31L46,37" stroke="#2f628a" stroke-width="0.9" fill="none"/></g><g fill="#e60000"><path d="M181.8,106H189.2V109H187.3V107.8H183.7V109H181.8Z"/><rect x="178.9" y="108.8" width="13.2" height="9" rx="0.6"/><path d="M170.2,128.2L177,120.6Q178.6,119 181,119H190.4Q192,119.2 190.9,120.9L189.8,121.6H183.8V122.4H189.6L194.2,116.9Q195.4,116 196,117.6L190.3,124.5H179.1L176.7,128.3Z"/></g><circle cx="185.4" cy="113.4" r="2.9" fill="none" stroke="#fff" stroke-width="0.8"/><path d="M185.4,111.8V115 M183.8,113.4H187" stroke="#fff" stroke-width="0.8"/><g fill="#2f628a"><rect x="25" y="246.9" width="5.1" height="2.4"/><rect x="22.1" y="248.9" width="10.8" height="12.9"/></g><g fill="#fff"><rect x="24.7" y="252" width="5.9" height="0.9"/><rect x="24.7" y="253.7" width="5.9" height="0.9"/><rect x="24.2" y="255.6" width="2.2" height="3.4"/><rect x="28.2" y="257" width="1.8" height="1.9"/></g><path d="M165.5,248.3H182A0.6,0.6 0 0 1 182.6,248.9V265.7A0.6,0.6 0 0 1 182,266.3H177.5L169.3,271.1L168.9,266.3H165.4A0.6,0.6 0 0 1 164.8,265.7V248.9A0.6,0.6 0 0 1 165.5,248.3Z" fill="#2f628a"/><rect x="172" y="252.2" width="3.1" height="5.3" fill="#fff"/><rect x="172" y="260.8" width="3.1" height="3.1" fill="#fff"/><g fill="#2f628a"><path d="M26.2,392.8L22.6,389.4Q21.3,387.6 22.9,386.6Q24.6,385.9 26.2,387.6Q27.8,385.9 29.5,386.6Q31.1,387.6 29.8,389.4Z"/><circle cx="35.3" cy="387" r="2.2"/><rect x="39.2" y="384" width="2.3" height="8.4" rx="1"/><path d="M32,390.4H39.6L41.3,389.8L41.5,391.2L40,393.6V399.8L39.1,408.8H37.3L35.8,400.6L34.6,408.8H32.6L32.2,399.4V396.9H23.6Q22.5,396.6 22.9,395.2L23.6,394.6H31.6Z"/></g><path d="M428.8,423.8L420.2,415.6Q417,412 419.3,406.8Q421.8,403.6 425.3,404.4Q427.6,405 428.8,406.8Q430,405 432.3,404.4Q435.8,403.6 438.3,406.8Q440.6,412 437.4,415.6Z" fill="#2f628a"/><path d="M419.3,414.5H425.3L426.6,417.6L428.4,411.4L430,416.7L431.4,412.4L432.6,414.5H438.5" fill="none" stroke="#fff" stroke-width="0.9" stroke-linejoin="miter"/><path d="M170.0,312.5V321.2L165.5,316.85Z" fill="none" stroke="#3c5468" stroke-width="1.1"/><path d="M265.5,312.5V321.2L270.2,316.85Z" fill="none" stroke="#3c5468" stroke-width="1.1"/><path d="M26.5,447.1V454.0L22.8,450.55Z" fill="none" stroke="#3c5468" stroke-width="1.1"/><path d="M122.5,447.1V454.0L126.9,450.55Z" fill="none" stroke="#3c5468" stroke-width="1.1"/><path d="M170.0,447.1V454.0L166.0,450.55Z" fill="none" stroke="#3c5468" stroke-width="1.1"/><path d="M265.8,447.1V454.0L270.0,450.55Z" fill="none" stroke="#3c5468" stroke-width="1.1"/><path d="M313.5,447.1V454.0L309.5,450.55Z" fill="none" stroke="#3c5468" stroke-width="1.1"/><path d="M596.9,447.1V454.0L601.3,450.55Z" fill="none" stroke="#3c5468" stroke-width="1.1"/><path d="M217.5,392.5L217.50,367.30A25.2,25.2 0 0 1 217.50,417.70Z" fill="#3d4952"/><path d="M217.5,392.5L217.50,417.70A25.2,25.2 0 0 1 195.21,404.25Z" fill="#0fa5e6"/><path d="M217.5,392.5L195.21,404.25A25.2,25.2 0 0 1 217.50,367.30Z" fill="#44739c"/><line x1="217.5" y1="392.5" x2="217.50" y2="367.30" stroke="#fff" stroke-width="0.9"/><line x1="217.5" y1="392.5" x2="217.50" y2="417.70" stroke="#fff" stroke-width="0.9"/><line x1="217.5" y1="392.5" x2="195.21" y2="404.25" stroke="#fff" stroke-width="0.9"/><path d="M819.6,389.6L829.72,358.82A32.4,32.4 0 0 1 851.74,385.48Z" fill="#44739c"/><path d="M819.6,389.6L851.74,385.48A32.4,32.4 0 0 1 840.69,414.20Z" fill="#4a82b4"/><path d="M819.6,389.6L840.69,414.20A32.4,32.4 0 0 1 811.43,420.95Z" fill="#4b8fd0"/><path d="M819.6,389.6L811.43,420.95A32.4,32.4 0 0 1 790.07,402.93Z" fill="#56a2e6"/><path d="M819.6,389.6L790.07,402.93A32.4,32.4 0 0 1 789.52,377.57Z" fill="#3d4a52"/><path d="M819.6,389.6L789.52,377.57A32.4,32.4 0 0 1 829.72,358.82Z" fill="#445a6e"/><line x1="819.6" y1="389.6" x2="829.72" y2="358.82" stroke="#fff" stroke-width="0.9"/><line x1="819.6" y1="389.6" x2="851.74" y2="385.48" stroke="#fff" stroke-width="0.9"/><line x1="819.6" y1="389.6" x2="840.69" y2="414.20" stroke="#fff" stroke-width="0.9"/><line x1="819.6" y1="389.6" x2="811.43" y2="420.95" stroke="#fff" stroke-width="0.9"/><line x1="819.6" y1="389.6" x2="790.07" y2="402.93" stroke="#fff" stroke-width="0.9"/><line x1="819.6" y1="389.6" x2="789.52" y2="377.57" stroke="#fff" stroke-width="0.9"/><g stroke="#c4c4c4" fill="none" stroke-width="0.9"><path d="M794.5,347.5H801.5L805.5,359"/><path d="M846.3,369.1L855.2,361.4H860.8"/><path d="M769.5,390.5H787"/><path d="M850.5,401L858.5,405.5H867"/><path d="M786.5,424.5H792.9L799.2,414.9"/><path d="M827.2,421.2L830.3,436"/></g><text x="721" y="353.8" font-size="9.6" fill="#3c5468" textLength="70" lengthAdjust="spacingAndGlyphs">(Age 20-29) 24%</text><text x="862.8" y="365.8" font-size="9.6" fill="#3c5468" textLength="70" lengthAdjust="spacingAndGlyphs">(Age 30-39) 18%</text><text x="701" y="395.8" font-size="9.6" fill="#3c5468" textLength="64.6" lengthAdjust="spacingAndGlyphs">(Age 0-19) 13%</text><text x="870" y="411.8" font-size="9.6" fill="#3c5468" textLength="70" lengthAdjust="spacingAndGlyphs">(Age 40-49) 16%</text><text x="719.8" y="429.6" font-size="9.6" fill="#3c5468" textLength="62.4" lengthAdjust="spacingAndGlyphs">(Age 60+) 14%</text><svg x="0" y="0" width="1022" height="437"><text x="838.7" y="441" font-size="9.6" fill="#3c5468" textLength="68.3" lengthAdjust="spacingAndGlyphs">(Age 50-59) 15%</text></svg></svg>
<div class="t" style="left:61.50px;top:19.55px;font-size:17.83px;line-height:17.83px;-webkit-text-stroke:0.20px #fff;color:#2c4a62;transform:scaleX(0.9523)">Waco-McLennan County COVID-19 Statistics</div>
<div class="t" style="left:61.50px;top:42.12px;font-size:9.86px;line-height:9.86px;color:#2c4a62;transform:scaleX(1.0249)">Waco-McLennan County Health District | Promote &#8226; Prevent &#8226; Protect</div>
<div class="t" style="left:759.00px;top:31.17px;font-size:11.45px;line-height:11.45px;color:#555;transform:scaleX(0.8003)">View Cases by City</div>
<div class="t" style="left:881.70px;top:31.17px;font-size:11.45px;line-height:11.45px;color:#555;transform:scaleX(0.8141)">View Cases by Zip Code</div>
<div class="t" style="left:21.76px;top:83.44px;font-size:21.01px;line-height:21.01px;-webkit-text-stroke:0.23px #fff;color:#2c4a62;transform:scaleX(0.9774)">New Cases</div>
<div class="t" style="left:64.06px;top:110.47px;font-size:53.33px;line-height:53.33px;font-weight:bold;-webkit-text-stroke:0.75px #fff;color:#1f3d58;transform:scaleX(1.0280)">73</div>
<div class="t" style="left:22.00px;top:167.52px;font-size:7.39px;line-height:7.39px;color:#2c4a62;transform:scaleX(1.0610)">AS OF 6/27/2020, 3:00:00 PM</div>
<div class="t" style="left:164.31px;top:79.75px;font-size:14.06px;line-height:14.06px;color:#2c4a62;transform:scaleX(0.9791)">Confirmed Cases</div>
<div class="t" style="left:201.86px;top:100.27px;font-size:35.80px;line-height:35.80px;font-weight:bold;-webkit-text-stroke:0.50px #fff;color:#e60012;transform:scaleX(1.0511)">697</div>
<div class="t" style="left:170.57px;top:139.22px;font-size:17.39px;line-height:17.39px;-webkit-text-stroke:0.19px #fff;color:#e60012;transform:scaleX(0.9812)">496 ACTIVE</div>
<div class="t" style="left:167.39px;top:175.37px;font-size:9.57px;line-height:9.57px;color:#2c4a62;transform:scaleX(0.8630)">Cases</div>
<div class="t" style="left:212.10px;top:175.52px;font-size:9.28px;line-height:9.28px;color:#666;transform:scaleX(1.0098)">Definition</div>
<div class="t" style="left:21.73px;top:227.28px;font-size:12.03px;line-height:12.03px;color:#2c4a62;transform:scaleX(0.8890)">Total Tests Conducted</div>
<div class="t" style="left:41.21px;top:243.07px;font-size:25.80px;line-height:25.80px;font-weight:bold;color:#1f3d58;transform:scaleX(1.0763)">16,490</div>
<div class="t" style="left:22.00px;top:270.99px;font-size:7.54px;line-height:7.54px;color:#2c4a62;transform:scaleX(1.0020)">AS OF 6/24/2020, 12:00:00 AM</div>
<div class="t" style="left:24.49px;top:311.59px;font-size:9.42px;line-height:9.42px;color:#2c4a62;transform:scaleX(0.9006)">Tests</div>
<div class="t" style="left:64.92px;top:311.59px;font-size:9.42px;line-height:9.42px;color:#666;transform:scaleX(0.9583)">Disclaimer</div>
<div class="t" style="left:163.99px;top:223.38px;font-size:10.14px;line-height:10.14px;color:#2c4a62;transform:scaleX(0.9351)">Persons Being Monitored</div>
<div class="t" style="left:193.08px;top:237.62px;font-size:43.62px;line-height:43.62px;font-weight:bold;-webkit-text-stroke:0.61px #fff;color:#1f3d58;transform:scaleX(1.0639)">742</div>
<div class="t" style="left:196.18px;top:312.34px;font-size:9.13px;line-height:9.13px;color:#2c4a62;transform:scaleX(1.0484)">Monitored</div>
<div class="t" style="left:21.40px;top:356.81px;font-size:13.04px;line-height:13.04px;color:#2c4a62;transform:scaleX(0.9218)">Persons Recovered</div>
<div class="t" style="left:53.05px;top:372.97px;font-size:43.91px;line-height:43.91px;font-weight:bold;-webkit-text-stroke:0.61px #fff;color:#1f3d58;transform:scaleX(0.9792)">195</div>
<div class="t" style="left:52.53px;top:444.49px;font-size:9.42px;line-height:9.42px;color:#2c4a62;transform:scaleX(0.9531)">Recovered</div>
<div class="t" style="left:188.98px;top:341.41px;font-size:10.58px;line-height:10.58px;color:#2c4a62;transform:scaleX(0.9074)">DECEASED</div>
<div class="t" style="left:175.57px;top:356.01px;font-size:10.58px;line-height:10.58px;color:#2c4a62;transform:scaleX(0.9184)">DEMOGRAPHICS</div>
<div class="t" style="left:163.26px;top:423.97px;font-size:11.45px;line-height:11.45px;color:#2c4a62;transform:scaleX(0.8237)">% BY RACE / ETHNICITY</div>
<div class="t" style="left:189.64px;top:444.49px;font-size:9.42px;line-height:9.42px;color:#2c4a62;transform:scaleX(0.9298)">Race/Ethnicity</div>
<div class="t" style="left:310.99px;top:330.56px;font-size:8.99px;line-height:8.99px;color:#2c4a62;transform:scaleX(1.0550)">Map</div>
<div class="t" style="left:350.33px;top:330.56px;font-size:8.99px;line-height:8.99px;color:#666;transform:scaleX(0.9889)">Data Disclaimers</div>
<div class="t" style="left:308.22px;top:360.67px;font-size:29.57px;line-height:29.57px;-webkit-text-stroke:0.33px #fff;color:#2c4a62;transform:scaleX(0.9358)">Current Hospitalizations</div>
<div class="t" style="left:448.57px;top:394.66px;font-size:37.10px;line-height:37.10px;font-weight:bold;-webkit-text-stroke:0.52px #fff;color:#1f3d58;transform:scaleX(0.9841)">11</div>
<div class="t" style="left:440.35px;top:445.38px;font-size:10.14px;line-height:10.14px;color:#2c4a62;transform:scaleX(0.8969)">Current</div>
<div class="t" style="left:672.52px;top:70.65px;font-size:12.17px;line-height:12.17px;font-weight:bold;color:#2c4a62;transform:scaleX(0.7906)">COVID-19 Tests Conducted Among McLennan County Residents</div>
<div class="t" style="left:788.67px;top:86.26px;font-size:10.87px;line-height:10.87px;color:#2c4a62;transform:scaleX(0.9015)">Positivity Rate</div>
<div class="t" style="left:642.53px;top:299.27px;font-size:9.57px;line-height:9.57px;color:#666;transform:scaleX(0.9288)">Daily</div>
<div class="t" style="left:683.63px;top:299.27px;font-size:9.57px;line-height:9.57px;color:#666;transform:scaleX(0.9353)">Rolling 7-Day Average</div>
<div class="t" style="left:793.06px;top:299.27px;font-size:9.57px;line-height:9.57px;color:#2c4a62;transform:scaleX(0.8951)">Positivity Rate</div>
<div class="t" style="left:755.01px;top:330.25px;font-size:10.29px;line-height:10.29px;color:#2c4a62;transform:scaleX(0.9565)">COVID-19 DEMOGRAPHICS</div>
<div class="t" style="left:643.00px;top:446.20px;font-size:10.00px;line-height:10.00px;color:#2c4a62;transform:scaleX(0.9143)">Age</div>
<div class="t" style="left:680.24px;top:446.20px;font-size:10.00px;line-height:10.00px;color:#666;transform:scaleX(0.9252)">Gender</div>
<div class="t" style="left:731.84px;top:446.20px;font-size:10.00px;line-height:10.00px;color:#666;transform:scaleX(0.8822)">Race/Ethnicity</div>
</body></html>
